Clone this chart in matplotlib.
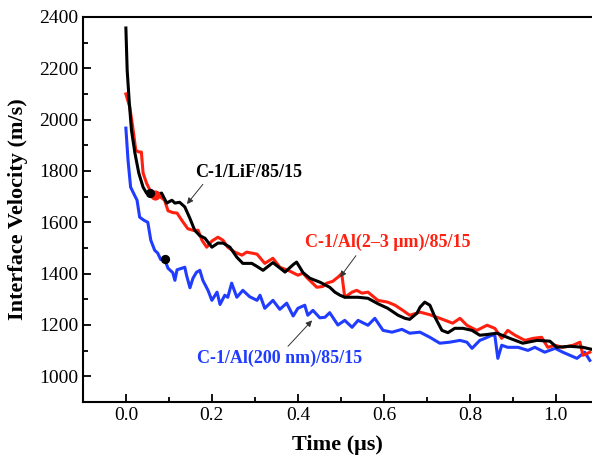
import matplotlib
matplotlib.use("Agg")
import matplotlib.pyplot as plt
from matplotlib.ticker import MultipleLocator

plt.rcParams['font.family'] = ['Liberation Serif', 'DejaVu Serif']

# C-1/LiF/85/15 (black)
t_lif = [0.000, 0.003, 0.008, 0.013, 0.021, 0.030, 0.040, 0.048, 0.060, 0.070,
         0.083, 0.095, 0.107, 0.114, 0.125, 0.137, 0.149, 0.160, 0.172, 0.184,
         0.200, 0.214, 0.226, 0.242, 0.258, 0.272, 0.293, 0.305, 0.319, 0.342,
         0.365, 0.370, 0.389, 0.397, 0.412, 0.428, 0.451, 0.474, 0.486, 0.498,
         0.509, 0.521, 0.540, 0.563, 0.586, 0.609, 0.633, 0.649, 0.660, 0.677,
         0.684, 0.695, 0.707, 0.719, 0.735, 0.749, 0.765, 0.784, 0.805, 0.823,
         0.840, 0.863, 0.893, 0.923, 0.956, 0.986, 1.002, 1.033, 1.063, 1.084]
v_lif = [2357, 2193, 2065, 1959, 1870, 1792, 1737, 1714, 1710, 1706,
         1714, 1675, 1686, 1675, 1678, 1660, 1615, 1569, 1548, 1538,
         1503, 1519, 1519, 1503, 1464, 1440, 1440, 1428, 1413, 1443,
         1413, 1406, 1435, 1445, 1404, 1382, 1367, 1347, 1328, 1316,
         1308, 1308, 1308, 1304, 1283, 1265, 1238, 1226, 1222, 1246,
         1269, 1289, 1277, 1230, 1179, 1170, 1187, 1187, 1179, 1160,
         1163, 1168, 1148, 1129, 1140, 1137, 1113, 1117, 1113, 1105]

# C-1/Al(2-3 um)/85/15 (red)
t_al23 = [0.000, 0.009, 0.016, 0.023, 0.030, 0.036, 0.040, 0.048, 0.056, 0.067,
          0.081, 0.090, 0.098, 0.109, 0.119, 0.130, 0.144, 0.156, 0.168, 0.177,
          0.188, 0.200, 0.214, 0.226, 0.237, 0.253, 0.270, 0.281, 0.305, 0.323,
          0.342, 0.358, 0.381, 0.400, 0.412, 0.420, 0.444, 0.458, 0.467, 0.481,
          0.493, 0.502, 0.509, 0.526, 0.537, 0.549, 0.563, 0.586, 0.609, 0.626,
          0.644, 0.660, 0.684, 0.707, 0.730, 0.760, 0.777, 0.793, 0.816, 0.840,
          0.858, 0.874, 0.888, 0.905, 0.928, 0.947, 0.967, 0.981, 0.998, 1.016,
          1.040, 1.056, 1.063, 1.079]
v_al23 = [2100, 2049, 1971, 1881, 1874, 1874, 1792, 1753, 1725, 1712,
          1698, 1686, 1645, 1638, 1636, 1608, 1575, 1569, 1569, 1530,
          1503, 1527, 1542, 1530, 1503, 1484, 1472, 1484, 1476, 1440,
          1460, 1425, 1410, 1394, 1402, 1386, 1347, 1350, 1363, 1370,
          1386, 1400, 1308, 1328, 1335, 1324, 1328, 1296, 1289, 1277,
          1257, 1238, 1250, 1240, 1226, 1207, 1226, 1199, 1179, 1199,
          1187, 1148, 1179, 1160, 1140, 1148, 1152, 1113, 1121, 1113,
          1121, 1133, 1082, 1094]

# C-1/Al(200 nm)/85/15 (blue)
t_al200 = [0.000, 0.005, 0.011, 0.020, 0.026, 0.032, 0.042, 0.051, 0.058, 0.067,
           0.074, 0.081, 0.090, 0.098, 0.109, 0.114, 0.119, 0.130, 0.137, 0.141,
           0.149, 0.156, 0.164, 0.172, 0.179, 0.191, 0.200, 0.212, 0.219, 0.230,
           0.237, 0.246, 0.258, 0.272, 0.288, 0.305, 0.312, 0.323, 0.342, 0.358,
           0.374, 0.389, 0.400, 0.416, 0.423, 0.435, 0.451, 0.463, 0.474, 0.493,
           0.509, 0.526, 0.540, 0.563, 0.579, 0.598, 0.619, 0.642, 0.660, 0.684,
           0.707, 0.730, 0.753, 0.777, 0.793, 0.805, 0.823, 0.835, 0.851, 0.858,
           0.865, 0.874, 0.888, 0.912, 0.935, 0.951, 0.974, 0.998, 1.016, 1.049,
           1.067, 1.079]
v_al200 = [1967, 1842, 1737, 1706, 1686, 1620, 1608, 1600, 1530, 1491,
           1480, 1455, 1456, 1421, 1404, 1374, 1415, 1421, 1425, 1394,
           1345, 1382, 1405, 1413, 1374, 1335, 1296, 1328, 1280, 1316,
           1308, 1363, 1308, 1335, 1310, 1296, 1316, 1265, 1296, 1261,
           1285, 1235, 1265, 1277, 1238, 1257, 1228, 1230, 1248, 1200,
           1218, 1191, 1218, 1199, 1226, 1179, 1172, 1183, 1168, 1172,
           1152, 1129, 1133, 1140, 1133, 1109, 1140, 1148, 1160, 1160,
           1070, 1121, 1113, 1113, 1101, 1113, 1094, 1109, 1094, 1070,
           1094, 1062]

# stray dots on the curves
dot_t = [0.055, 0.090]
dot_v = [1714, 1456]
reddot_t = [0.068]
reddot_v = [1706]

fig = plt.figure(figsize=(5.92, 4.65), dpi=100)
ax = fig.add_axes([0.140, 0.1355, 0.860, 0.828])

ax.plot(t_al200, v_al200, color='#1f3cff', lw=2.2)
ax.plot(t_al23, v_al23, color='#ff2010', lw=2.2)
ax.plot(t_lif, v_lif, color='black', lw=2.2)
ax.scatter(reddot_t, reddot_v, s=40, color='#ff2010', zorder=5)
ax.scatter(dot_t, dot_v, s=32, color='black', zorder=6)

arrow = dict(arrowstyle='-|>', color='#333333', lw=0.7, mutation_scale=9,
             shrinkA=0, shrinkB=0)
ax.text(0.16, 1796, 'C-1/LiF/85/15', fontsize=13, fontweight='bold',
        color='black', va='center')
ax.annotate('', xy=(0.142, 1671), xytext=(0.179, 1748), arrowprops=arrow)
ax.text(0.416, 1523, 'C-1/Al(2\u20133 \u03bcm)/85/15', fontsize=13,
        fontweight='bold', color='#ff2010', va='center')
ax.annotate('', xy=(0.498, 1386), xytext=(0.535, 1470), arrowprops=arrow)
ax.text(0.165, 1070, 'C-1/Al(200 nm)/85/15', fontsize=13,
        fontweight='bold', color='#1f3cff', va='center')
ax.annotate('', xy=(0.433, 1218), xytext=(0.377, 1117), arrowprops=arrow)

ax.set_xlim(-0.1, 1.084)
ax.set_ylim(900, 2400)
ax.xaxis.set_minor_locator(MultipleLocator(0.1))
ax.yaxis.set_minor_locator(MultipleLocator(100))
ax.set_xticks([0.0, 0.2, 0.4, 0.6, 0.8, 1.0])
ax.set_xticklabels(['0.0', '0.2', '0.4', '0.6', '0.8', '1.0'])
ax.set_yticks(range(1000, 2401, 200))
ax.tick_params(which='both', direction='in', width=1.3, labelsize=14,
               top=False, right=False)
ax.tick_params(which='major', length=6)
ax.tick_params(which='minor', length=3.5)
for s in ['left', 'bottom', 'top']:
    ax.spines[s].set_linewidth(1.5)
ax.spines['right'].set_visible(False)

ax.set_xlabel('Time (\u03bcs)', fontsize=16, fontweight='bold', labelpad=8)
ax.set_ylabel('Interface Velocity (m/s)', fontsize=16, fontweight='bold',
              labelpad=8)

fig.savefig('out.png', dpi=100)
